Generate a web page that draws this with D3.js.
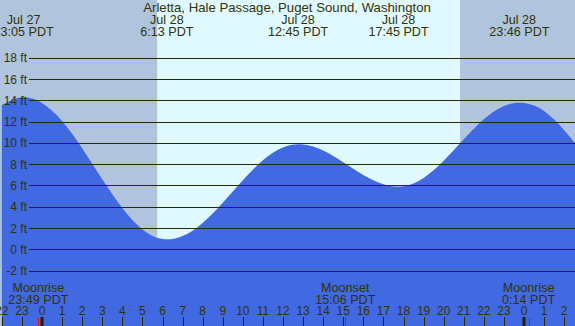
<!DOCTYPE html>
<html>
<head>
<meta charset="utf-8">
<style>
  body { margin: 0; background: #fff; }
  svg { display: block; font-family: "Liberation Sans", Arial, sans-serif; }
  .lbl { font-size: 12px; fill: #333300; }
  .big { font-size: 12.6px; }
  .ttl { font-size: 13.2px; }
</style>
</head>
<body>
<svg id="chart" width="575" height="326"></svg>
<script src="https://cdn.jsdelivr.net/npm/d3@7/dist/d3.min.js"></script>
<script>

// ---------------------------------------------------------------------------
//                                DATA
// ---------------------------------------------------------------------------
var title = "Arletta, Hale Passage, Puget Sound, Washington";

// Hours relative to Jul 28 00:00 and water height (ft).
var hours   = [-2, -1, 0, 1, 2, 3, 4, 5, 6, 7, 8, 9, 10, 11, 12, 13, 14,
               15, 16, 17, 18, 19, 20, 21, 22, 23, 24, 25, 26, 27];
var heights = [13.56, 14.29, 13.76, 12.06, 9.5, 6.59, 3.88, 1.87, 0.97, 1.25,
               2.48, 4.37, 6.5, 8.38, 9.58, 9.85, 9.29, 8.19, 6.98, 6.12,
               5.93, 6.71, 8.32, 10.34, 12.23, 13.48, 13.75, 13.0, 11.2, 8.9];

// High / low tide labels at the top.
var extremeDays  = ["Jul 27", "Jul 28", "Jul 28", "Jul 28", "Jul 28"];
var extremeTimes = ["23:05", "6:13", "12:45", "17:45", "23:46"];
var extremeDayOffset = [-1, 0, 0, 0, 0];

// Sunrise / sunset (day band).
var sunrise = "5:44", sunset = "20:49";

// Moon events.
var moonNames  = ["Moonrise", "Moonset", "Moonrise"];
var moonTimes  = ["23:49", "15:06", "0:14"];
var moonDayOffset = [-1, 0, 1];

// Axis ticks.
var yTicks = [-2, 0, 2, 4, 6, 8, 10, 12, 14, 16, 18];
var xTicks = d3.range(-2, 27);

// ---------------------------------------------------------------------------
//                              FUNCTIONS
// ---------------------------------------------------------------------------
// "HH:MM" plus a day offset -> hours from Jul 28 00:00
function toHours(t, dayOff) {
  var p = t.split(":");
  return (dayOff || 0) * 24 + (+p[0]) + (+p[1]) / 60;
}

// ---------------------------------------------------------------------------
//                               CHART
// ---------------------------------------------------------------------------
var svg = d3.select("#chart"),
    width = +svg.attr("width"),
    height = +svg.attr("height");

var x = d3.scaleLinear().domain([0, 24]).range([42, 524]);
var y = d3.scaleLinear().domain([-2, 18]).range([270.6, 57.8]);

// Night / day background
var rise = x(toHours(sunrise)), set = x(toHours(sunset));
svg.append("rect").attr("x", 0).attr("y", 0)
   .attr("width", width).attr("height", height).attr("fill", "#b0c4de");
svg.append("rect").attr("x", rise).attr("y", 0)
   .attr("width", set - rise).attr("height", height).attr("fill", "#e0f8ff");

// Tide area
var tide = hours.map(function(h, i) { return [h, heights[i]]; });
var area = d3.area()
    .x(function(d) { return x(d[0]); })
    .y0(height)
    .y1(function(d) { return y(d[1]); })
    .curve(d3.curveNatural);

svg.append("path")
   .datum(tide)
   .attr("d", area)
   .attr("fill", "#4169e1");

// Horizontal grid + labels
svg.selectAll(".grid").data(yTicks).enter().append("line")
   .attr("class", "grid")
   .attr("x1", 29).attr("x2", width)
   .attr("y1", function(d) { return Math.round(y(d)) + 0.5; })
   .attr("y2", function(d) { return Math.round(y(d)) + 0.5; })
   .attr("stroke", "#2a2a00").attr("stroke-width", 1);

svg.selectAll(".ylab").data(yTicks).enter().append("text")
   .attr("class", "lbl")
   .attr("x", 27)
   .attr("y", function(d) { return y(d) + 4.5; })
   .attr("text-anchor", "end")
   .text(function(d) { return d + " ft"; });

// Title
svg.append("text").attr("class", "lbl ttl")
   .attr("x", 287).attr("y", 12)
   .attr("text-anchor", "middle")
   .text(title);

// Tide extremes
var ext = svg.selectAll(".ext").data(extremeTimes).enter().append("g")
   .attr("transform", function(d, i) {
       return "translate(" + x(toHours(d, extremeDayOffset[i])) + ",0)"; });
ext.append("text").attr("class", "lbl big").attr("y", 24)
   .attr("text-anchor", "middle")
   .text(function(d, i) { return extremeDays[i]; });
ext.append("text").attr("class", "lbl big").attr("y", 36)
   .attr("text-anchor", "middle")
   .text(function(d) { return d + " PDT"; });

// Moon labels
var moon = svg.selectAll(".moon").data(moonTimes).enter().append("g")
   .attr("transform", function(d, i) {
       return "translate(" + x(toHours(d, moonDayOffset[i])) + ",0)"; });
moon.append("text").attr("class", "lbl big").attr("y", 292)
   .attr("text-anchor", "middle")
   .text(function(d, i) { return moonNames[i]; });
moon.append("text").attr("class", "lbl big").attr("y", 304)
   .attr("text-anchor", "middle")
   .text(function(d) { return d + " PDT"; });

// Hour axis
svg.selectAll(".xlab").data(xTicks).enter().append("text")
   .attr("class", "lbl")
   .attr("x", function(d) { return x(d); })
   .attr("y", 315)
   .attr("text-anchor", "middle")
   .text(function(d) { return ((d % 24) + 24) % 24; });

svg.selectAll(".xtick").data(xTicks).enter().append("line")
   .attr("x1", function(d) { return Math.round(x(d)) + 0.5; })
   .attr("x2", function(d) { return Math.round(x(d)) + 0.5; })
   .attr("y1", 317).attr("y2", height)
   .attr("stroke", "#2a2a00");

// Midnight marks
svg.selectAll(".midnight").data(xTicks.filter(function(d) { return d % 24 === 0; }))
   .enter().append("rect")
   .attr("x", function(d) { return x(d) - 1.5; })
   .attr("y", 317).attr("width", 3).attr("height", height - 317)
   .attr("fill", "#222200");

// Moon event marks
svg.selectAll(".moonmark").data(moonTimes).enter().append("line")
   .attr("x1", function(d, i) { return Math.round(x(toHours(d, moonDayOffset[i]))) + 0.5; })
   .attr("x2", function(d, i) { return Math.round(x(toHours(d, moonDayOffset[i]))) + 0.5; })
   .attr("y1", 318).attr("y2", height)
   .attr("stroke", "#ff0000");

</script>
</body>
</html>
